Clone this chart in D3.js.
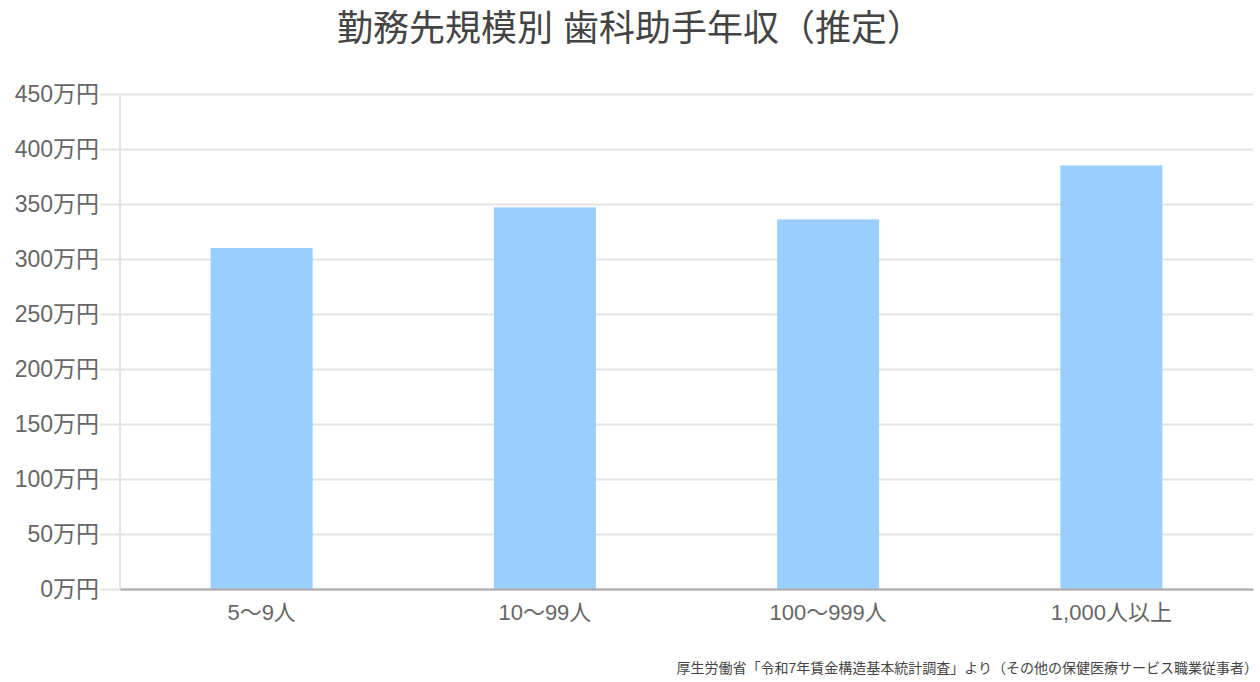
<!DOCTYPE html>
<html>
<head>
<meta charset="utf-8">
<script src="https://cdn.jsdelivr.net/npm/d3@7"></script>
<style>
  body { margin: 0; background: #fff; }
  svg text { font-family: "Liberation Sans", Arial, "Noto Sans CJK JP", sans-serif; }
</style>
</head>
<body>
<div id="chart"></div>
<script>
// data
const categories = ["5〜9人", "10〜99人", "100〜999人", "1,000人以上"];
const salaries = [310, 347, 336, 385];
const yTicks = [0, 50, 100, 150, 200, 250, 300, 350, 400, 450];
const title = "勤務先規模別 歯科助手年収（推定）";
const source = "厚生労働省「令和7年賃金構造基本統計調査」より（その他の保健医療サービス職業従事者）";

const W = 1260, H = 682;
const margin = { top: 94, right: 7, bottom: 93, left: 120 };
const width = W - margin.left - margin.right;
const height = H - margin.top - margin.bottom;

const svg = d3.select("#chart").append("svg")
  .attr("width", W)
  .attr("height", H);

svg.append("text")
  .attr("x", W / 2)
  .attr("y", 41)
  .attr("text-anchor", "middle")
  .attr("fill", "#444")
  .style("font-size", "36px")
  .text(title);

const g = svg.append("g")
  .attr("transform", "translate(" + margin.left + "," + margin.top + ")");

const x = d3.scaleBand()
  .domain(categories)
  .range([0, width])
  .paddingInner(0.64)
  .paddingOuter(0.32);

const y = d3.scaleLinear()
  .domain([0, 450])
  .range([height, 0]);

// gridlines + y labels
const yAxis = g.append("g")
  .call(d3.axisLeft(y)
    .tickValues(yTicks)
    .tickSize(-width)
    .tickFormat(d => d + "万円"));
yAxis.select(".domain").remove();
yAxis.selectAll(".tick line")
  .attr("x1", -20)
  .attr("stroke", "#e3e3e3")
  .attr("stroke-width", 2);
yAxis.selectAll(".tick text")
  .attr("x", -21)
  .attr("fill", "#666")
  .style("font-size", "23px");

// y axis line
g.append("line")
  .attr("x1", 0).attr("x2", 0)
  .attr("y1", 0).attr("y2", height)
  .attr("stroke", "#e3e3e3")
  .attr("stroke-width", 2);

// bars
g.selectAll(".bar")
  .data(salaries)
  .enter().append("rect")
  .attr("class", "bar")
  .attr("x", (d, i) => x(categories[i]))
  .attr("width", x.bandwidth())
  .attr("y", d => y(d))
  .attr("height", d => height - y(d))
  .attr("fill", "#99cefe");

// x axis
const xAxis = g.append("g")
  .attr("transform", "translate(0," + height + ")")
  .call(d3.axisBottom(x).tickSize(0).tickPadding(15));
xAxis.select(".domain")
  .attr("stroke", "#aaa")
  .attr("stroke-width", 2);
xAxis.selectAll(".tick text")
  .attr("fill", "#666")
  .style("font-size", "22px");

svg.append("text")
  .attr("x", W - 2)
  .attr("y", 673)
  .attr("text-anchor", "end")
  .attr("fill", "#444")
  .style("font-size", "14px")
  .text(source);
</script>
</body>
</html>
